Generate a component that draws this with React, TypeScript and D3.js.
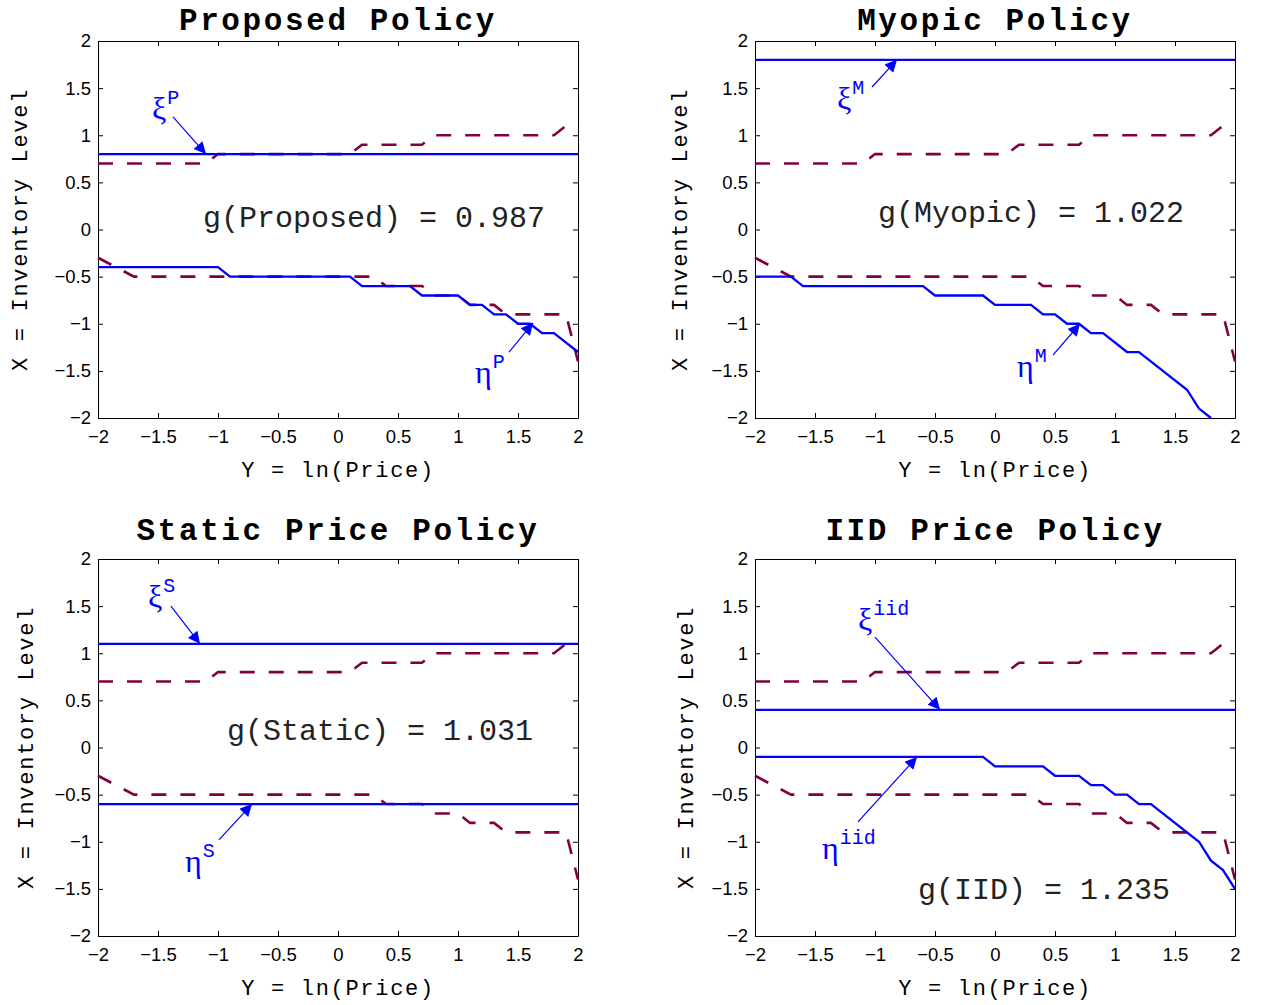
import React, { useEffect, useRef } from 'react';
import * as d3 from 'd3';

type Pt = [number, number];

// --- data ---
const xTicks = [-2, -1.5, -1, -0.5, 0, 0.5, 1, 1.5, 2];
const yTicks = [-2, -1.5, -1, -0.5, 0, 0.5, 1, 1.5, 2];

// dashed reference boundaries (identical in all four panels)
const refUpper: Pt[] = [
	[-2, 0.7], [-1.1, 0.7], [-1.0, 0.8], [0.1, 0.8], [0.2, 0.9], [0.7, 0.9],
	[0.8, 1.0], [1.8, 1.0], [1.9, 1.1], [2.0, 1.1],
];
const refLower: Pt[] = [
	[-2, -0.3], [-1.7, -0.5], [0.3, -0.5], [0.4, -0.6], [0.7, -0.6], [0.8, -0.7],
	[1.0, -0.7], [1.1, -0.8], [1.3, -0.8], [1.4, -0.9], [1.9, -0.9], [2.0, -1.4],
];

const proposedXi = 0.8;
const proposedEta: Pt[] = [
	[-2, -0.4], [-1.0, -0.4], [-0.9, -0.5], [0.1, -0.5], [0.2, -0.6], [0.6, -0.6],
	[0.7, -0.7], [1.0, -0.7], [1.1, -0.8], [1.2, -0.8], [1.3, -0.9], [1.4, -0.9],
	[1.5, -1.0], [1.6, -1.0], [1.7, -1.1], [1.8, -1.1], [1.9, -1.2], [2.0, -1.3],
];

const myopicXi = 1.8;
const myopicEta: Pt[] = [
	[-2, -0.5], [-1.7, -0.5], [-1.6, -0.6], [-0.6, -0.6], [-0.5, -0.7], [-0.1, -0.7],
	[0.0, -0.8], [0.3, -0.8], [0.4, -0.9], [0.5, -0.9], [0.6, -1.0], [0.7, -1.0],
	[0.8, -1.1], [0.9, -1.1], [1.1, -1.3], [1.2, -1.3], [1.6, -1.7], [1.7, -1.9],
	[1.8, -2.0],
];

const staticXi = 1.1;
const staticEta = -0.6;

const iidXi = 0.4;
const iidEta: Pt[] = [
	[-2, -0.1], [-0.1, -0.1], [0.0, -0.2], [0.4, -0.2], [0.5, -0.3], [0.7, -0.3],
	[0.8, -0.4], [0.9, -0.4], [1.0, -0.5], [1.1, -0.5], [1.2, -0.6], [1.3, -0.6],
	[1.7, -1.0], [1.8, -1.2], [1.9, -1.3], [2.0, -1.5],
];

const titles = ['Proposed Policy', 'Myopic Policy', 'Static Price Policy', 'IID Price Policy'];
const gLabels = ['g(Proposed) = 0.987', 'g(Myopic) = 1.022', 'g(Static) = 1.031', 'g(IID) = 1.235'];
const xLabel = 'Y = ln(Price)';
const yLabel = 'X = Inventory Level';

const flat = (v: number): Pt[] => [[-2, v], [2, v]];

// --- layout ---
const W = 480;
const H = 377;
const BLUE = '#0000ff';
const MAROON = '#800040';
const MONO = '"Liberation Mono", "DejaVu Sans Mono", monospace';
const SANS = '"Liberation Sans", Arial, sans-serif';
const SERIF = '"Liberation Serif", "DejaVu Serif", serif';

interface Note {
	glyph: string;
	sup: string;
	tx: number; ty: number; // label baseline (data coords)
	ax: number; ay: number; // arrow tail
	hx: number; hy: number; // arrow head
}

const panels = [
	{
		left: 98, top: 41, ylabOff: 71, titleY: -11,
		xi: flat(proposedXi), eta: proposedEta,
		g: [-1.125, 0.026],
		notes: [
			{ glyph: 'ξ', sup: 'P', tx: -1.55, ty: 1.17, ax: -1.375, ay: 1.194, hx: -1.1, hy: 0.8 },
			{ glyph: 'η', sup: 'P', tx: 1.142, ty: -1.63, ax: 1.425, ay: -1.30, hx: 1.625, hy: -0.99 },
		] as Note[],
	},
	{
		left: 755, top: 41, ylabOff: 68, titleY: -11,
		xi: flat(myopicXi), eta: myopicEta,
		g: [-0.975, 0.08],
		notes: [
			{ glyph: 'ξ', sup: 'M', tx: -1.317, ty: 1.279, ax: -1.025, ay: 1.512, hx: -0.817, hy: 1.8 },
			{ glyph: 'η', sup: 'M', tx: 0.183, ty: -1.565, ax: 0.483, ay: -1.332, hx: 0.708, hy: -1.0 },
		] as Note[],
	},
	{
		left: 98, top: 559, ylabOff: 65, titleY: -19,
		xi: flat(staticXi), eta: flat(staticEta),
		g: [-0.925, 0.08],
		notes: [
			{ glyph: 'ξ', sup: 'S', tx: -1.583, ty: 1.491, ax: -1.392, ay: 1.50, hx: -1.15, hy: 1.1 },
			{ glyph: 'η', sup: 'S', tx: -1.275, ty: -1.321, ax: -0.992, ay: -0.981, hx: -0.717, hy: -0.6 },
		] as Note[],
	},
	{
		left: 755, top: 559, ylabOff: 62, titleY: -19,
		xi: flat(iidXi), eta: iidEta,
		g: [-0.642, -1.607],
		notes: [
			{ glyph: 'ξ', sup: 'iid', tx: -1.142, ty: 1.247, ax: -1.0, ay: 1.172, hx: -0.458, hy: 0.4 },
			{ glyph: 'η', sup: 'iid', tx: -1.442, ty: -1.183, ax: -1.142, ay: -0.79, hx: -0.65, hy: -0.1 },
		] as Note[],
	},
];

const fmt = (d: d3.NumberValue) => String(+d).replace('-', '\u2212');

const App: React.FC = () => {
	const ref = useRef<SVGSVGElement>(null);

	useEffect(() => {
		if (!ref.current) return;
		const svg = d3.select(ref.current);
		svg.selectAll('*').remove();

		svg
			.append('defs')
			.append('marker')
			.attr('id', 'arrowhead')
			.attr('viewBox', '0 0 10 10')
			.attr('refX', 10)
			.attr('refY', 5)
			.attr('markerUnits', 'userSpaceOnUse')
			.attr('markerWidth', 16)
			.attr('markerHeight', 12)
			.attr('orient', 'auto')
			.append('path')
			.attr('d', 'M0,0 L10,5 L0,10 Z')
			.attr('fill', BLUE);

		panels.forEach((p, i) => {
			const x = d3.scaleLinear().domain([-2, 2]).range([0, W]);
			const y = d3.scaleLinear().domain([-2, 2]).range([H, 0]);

			const g = svg.append('g').attr('transform', `translate(${p.left},${p.top})`);

			g.append('rect')
				.attr('width', W)
				.attr('height', H)
				.attr('fill', '#fff');

			// --- Axes (ticks inward on all four sides) ---
			const styleAxis = (sel: d3.Selection<SVGGElement, unknown, null, undefined>) => {
				sel.selectAll('path.domain').attr('stroke', '#000').attr('stroke-width', 1);
				sel.selectAll('.tick line').attr('stroke', '#000').attr('stroke-width', 1);
				sel.selectAll('.tick text')
					.attr('fill', '#000')
					.style('font-family', SANS)
					.style('font-size', '18.5px');
			};

			g.append('g')
				.attr('transform', `translate(0,${H})`)
				.call(d3.axisBottom(x).tickValues(xTicks).tickSizeInner(-5).tickSizeOuter(0).tickPadding(12).tickFormat(fmt))
				.call(styleAxis);
			g.append('g')
				.call(d3.axisTop(x).tickValues(xTicks).tickSizeInner(-5).tickSizeOuter(0).tickFormat(() => ''))
				.call(styleAxis);
			g.append('g')
				.call(d3.axisLeft(y).tickValues(yTicks).tickSizeInner(-5).tickSizeOuter(0).tickPadding(7).tickFormat(fmt))
				.call(styleAxis);
			g.append('g')
				.attr('transform', `translate(${W},0)`)
				.call(d3.axisRight(y).tickValues(yTicks).tickSizeInner(-5).tickSizeOuter(0).tickFormat(() => ''))
				.call(styleAxis);

			// --- Lines ---
			const line = d3
				.line<Pt>()
				.x((d) => x(d[0]))
				.y((d) => y(d[1]));

			[refUpper, refLower].forEach((pts) => {
				g.append('path')
					.attr('d', line(pts))
					.attr('fill', 'none')
					.attr('stroke', MAROON)
					.attr('stroke-width', 2.6)
					.attr('stroke-dasharray', '15,14');
			});

			[p.xi, p.eta].forEach((pts) => {
				g.append('path')
					.attr('d', line(pts))
					.attr('fill', 'none')
					.attr('stroke', BLUE)
					.attr('stroke-width', 2.3);
			});

			// --- Annotations ---
			p.notes.forEach((n) => {
				g.append('line')
					.attr('x1', x(n.ax))
					.attr('y1', y(n.ay))
					.attr('x2', x(n.hx))
					.attr('y2', y(n.hy))
					.attr('stroke', BLUE)
					.attr('stroke-width', 1.2)
					.attr('marker-end', 'url(#arrowhead)');

				const t = g
					.append('text')
					.attr('x', x(n.tx))
					.attr('y', y(n.ty))
					.attr('fill', BLUE);
				t.append('tspan')
					.style('font-family', SERIF)
					.style('font-size', '32px')
					.text(n.glyph);
				t.append('tspan')
					.attr('dx', 1)
					.attr('dy', -15)
					.style('font-family', MONO)
					.style('font-size', '20px')
					.text(n.sup);
			});

			g.append('text')
				.attr('x', x(p.g[0]))
				.attr('y', y(p.g[1]))
				.attr('fill', '#222')
				.style('font-family', MONO)
				.style('font-size', '30px')
				.style('white-space', 'pre')
				.text(gLabels[i]);

			// --- Titles & labels ---
			g.append('text')
				.attr('x', W / 2)
				.attr('y', p.titleY)
				.attr('text-anchor', 'middle')
				.attr('fill', '#000')
				.style('font-family', MONO)
				.style('font-weight', 'bold')
				.style('font-size', '31px')
				.style('letter-spacing', '2.6px')
				.text(titles[i]);

			g.append('text')
				.attr('x', W / 2)
				.attr('y', H + 59)
				.attr('text-anchor', 'middle')
				.attr('fill', '#000')
				.style('font-family', MONO)
				.style('font-size', '22px')
				.style('letter-spacing', '1.7px')
				.text(xLabel);

			g.append('text')
				.attr('transform', `translate(${-p.ylabOff},${H / 2}) rotate(-90)`)
				.attr('text-anchor', 'middle')
				.attr('fill', '#000')
				.style('font-family', MONO)
				.style('font-size', '22px')
				.style('letter-spacing', '1.7px')
				.text(yLabel);
		});
	}, []);

	return (
		<svg
			ref={ref}
			width={1263}
			height={1005}
			style={{ position: 'absolute', left: 0, top: 0, background: '#fff' }}
		/>
	);
};

export default App;
